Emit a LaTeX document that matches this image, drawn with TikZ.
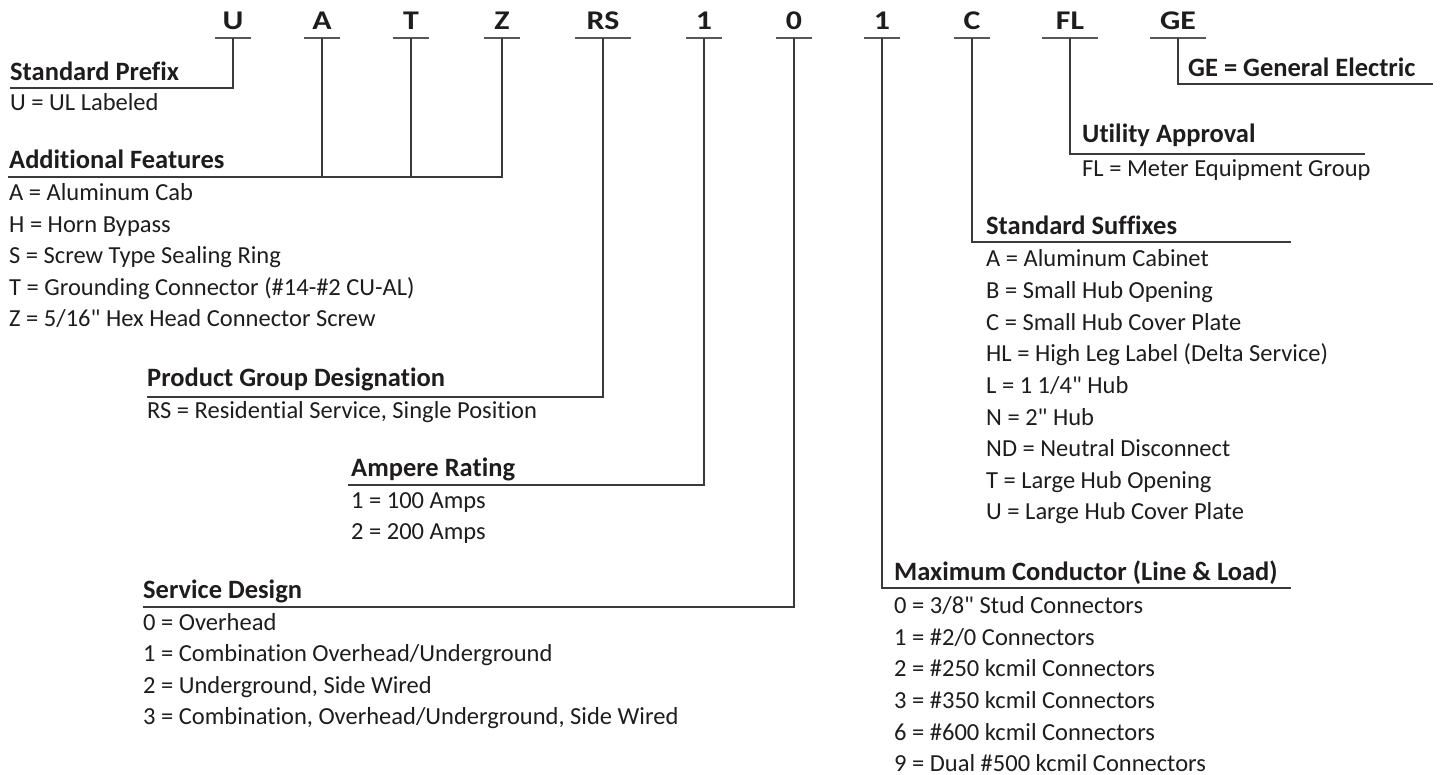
\documentclass[tikz,border=0pt]{standalone}
\usepackage{fontspec}
\setmainfont{Carlito}[Ligatures={TeXOff,NoCommon}]
\definecolor{ink}{HTML}{1E1C1D}
\definecolor{linec}{HTML}{3A3A3A}
\newcommand\cdtxt[1]{\scalebox{1.18}[1]{#1}}
\begin{document}
\begin{tikzpicture}[x=1pt,y=-1pt,
  every node/.style={inner sep=0pt, text=ink},
  code/.style={font=\fontsize{27}{27}\selectfont\bfseries, anchor=south, minimum width=36pt, inner xsep=0pt, inner ysep=8pt, text depth=0pt},
  codew/.style={code, minimum width=55pt},
  head/.style={font=\fontsize{26.5}{26.5}\selectfont\bfseries, anchor=base west},
  item/.style={font=\fontsize{24.5}{24.5}\selectfont, anchor=base west},
  rule/.style={draw=linec, line width=1.6pt},
  uline/.style={draw=linec!85, line width=2pt},
]
\useasboundingbox (0,0) rectangle (1443,775);

% code letters
\node[code]  (cU)    at (233,38) {\cdtxt{U}};
\node[code]  (cA)    at (322,38) {\cdtxt{A}};
\node[code]  (cT)    at (411,38) {\cdtxt{T}};
\node[code]  (cZ)    at (502,38) {\cdtxt{Z}};
\node[codew] (cRS)   at (603,38) {\cdtxt{RS}};
\node[code]  (cOne)  at (704,38) {\cdtxt{1}};
\node[code]  (cZero) at (794,38) {\cdtxt{0}};
\node[code]  (cOneB) at (882,38) {\cdtxt{1}};
\node[code]  (cC)    at (972,38) {\cdtxt{C}};
\node[codew] (cFL)   at (1070,38) {\cdtxt{FL}};
\node[codew] (cGE)   at (1178,38) {\cdtxt{GE}};
\foreach \n in {cU,cA,cT,cZ,cRS,cOne,cZero,cOneB,cC,cFL,cGE}
  \draw[uline] (\n.south west) -- (\n.south east);

% line end points
\coordinate (pPrefix) at (10,88);
\coordinate (pFeat)   at (8,177);
\coordinate (pProd)   at (147,397);
\coordinate (pAmp)    at (348,485);
\coordinate (pServ)   at (143,607);
\coordinate (pMax)    at (1291,588);
\coordinate (pSuf)    at (1291,242);
\coordinate (pUtil)   at (1365,154);
\coordinate (pGE)     at (1433,84);

% connectors
\draw[rule] (cU.south) |- (pPrefix);
\draw[rule] (cA.south) -- (cA.south |- pFeat);
\draw[rule] (cT.south) -- (cT.south |- pFeat);
\draw[rule] (cZ.south) |- (pFeat);
\draw[rule] (cRS.south) |- (pProd);
\draw[rule] (cOne.south) |- (pAmp);
\draw[rule] (cZero.south) |- (pServ);
\draw[rule] (cOneB.south) |- (pMax);
\draw[rule] (cC.south) |- (pSuf);
\draw[rule] (cFL.south) |- (pUtil);
\draw[rule] (cGE.south) |- (pGE);

% Standard Prefix
\node[head] (hPrefix) at (10,81) {Standard Prefix};
\node[item] (iPrefix) at (10,111) {U = UL Labeled};

% Additional Features
\node[head] (hFeat) at (9,169) {Additional Features};
\node[item] (iFeat1) at (9,201) {A = Aluminum Cab};
\node[item] (iFeat2) at (9,232.5) {H = Horn Bypass};
\node[item] (iFeat3) at (9,264) {S = Screw Type Sealing Ring};
\node[item] (iFeat4) at (9,295.5) {T = Grounding Connector (\#14-\#2 CU-AL)};
\node[item] (iFeat5) at (9,327) {Z = 5/16" Hex Head Connector Screw};

% Product Group
\node[head] (hProd) at (147,387) {Product Group Designation};
\node[item] (iProd) at (147,418) {RS = Residential Service, Single Position};

% Ampere Rating
\node[head] (hAmp) at (351,476) {Ampere Rating};
\node[item] (iAmp1) at (351,508) {1 = 100 Amps};
\node[item] (iAmp2) at (351,539) {2 = 200 Amps};

% Service Design
\node[head] (hServ) at (143,598) {Service Design};
\node[item] (iServ1) at (143,630) {0 = Overhead};
\node[item] (iServ2) at (143,661.5) {1 = Combination Overhead/Underground};
\node[item] (iServ3) at (143,693) {2 = Underground, Side Wired};
\node[item] (iServ4) at (143,724.5) {3 = Combination, Overhead/Underground, Side Wired};

% GE
\node[head] (hGE) at (1188,77) {GE = General Electric};

% Utility Approval
\node[head] (hUtil) at (1082,143) {Utility Approval};
\node[item] (iUtil) at (1082,177) {FL = Meter Equipment Group};

% Standard Suffixes
\node[head] (hSuf) at (986,235) {Standard Suffixes};
\node[item] (iSuf1) at (986,267) {A = Aluminum Cabinet};
\node[item] (iSuf2) at (986,298.6) {B = Small Hub Opening};
\node[item] (iSuf3) at (986,330.2) {C = Small Hub Cover Plate};
\node[item] (iSuf4) at (986,361.8) {HL = High Leg Label (Delta Service)};
\node[item] (iSuf5) at (986,393.4) {L = 1 1/4" Hub};
\node[item] (iSuf6) at (986,425) {N = 2" Hub};
\node[item] (iSuf7) at (986,456.6) {ND = Neutral Disconnect};
\node[item] (iSuf8) at (986,488.2) {T = Large Hub Opening};
\node[item] (iSuf9) at (986,519.8) {U = Large Hub Cover Plate};

% Maximum Conductor
\node[head] (hMax) at (894,580) {Maximum Conductor (Line \& Load)};
\node[item] (iMax1) at (894,613) {0 = 3/8" Stud Connectors};
\node[item] (iMax2) at (894,645) {1 = \#2/0 Connectors};
\node[item] (iMax3) at (894,676) {2 = \#250 kcmil Connectors};
\node[item] (iMax4) at (894,708) {3 = \#350 kcmil Connectors};
\node[item] (iMax5) at (894,740) {6 = \#600 kcmil Connectors};
\node[item] (iMax6) at (894,771) {9 = Dual \#500 kcmil Connectors};
\end{tikzpicture}
\end{document}
